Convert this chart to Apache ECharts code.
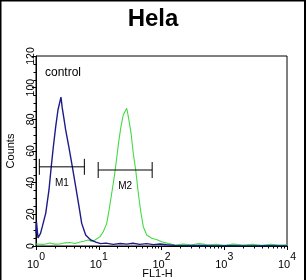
<!DOCTYPE html>
<html><head><meta charset="utf-8">
<script src="https://cdn.jsdelivr.net/npm/echarts@6/dist/echarts.min.js"></script>
<style>html,body{margin:0;padding:0;background:#fff}#c{width:306px;height:280px}</style>
</head><body><div id="c"></div>
<script>
const chartTitle = 'Hela';
const xName = 'FL1-H';
const yName = 'Counts';
const sampleLabel = 'control';
const xDecades = [0, 1, 2, 3, 4];
const yMax = 120;
const yStep = 20;

// control (blue) histogram: FL1-H value, counts
const blueX = [1.0, 1.018, 1.076, 1.18, 1.26, 1.43, 1.61, 1.75, 1.89, 2.06, 2.24, 2.40, 2.50, 2.62, 2.80, 2.97, 3.36, 3.79, 4.29, 4.85, 5.35, 6.19, 7.44, 9.0, 10.7, 13, 17, 22, 28, 35, 45, 58, 75, 95, 120, 164, 250, 400, 700, 1200, 2500, 5000, 10000];
const blueY = [8, 15.2, 5.1, 8, 12.2, 20.8, 35.4, 50.1, 62.7, 75.4, 85.9, 91, 94, 87.2, 80, 73.3, 61.9, 50.1, 37.5, 24.8, 14.3, 6.9, 3.8, 2.5, 1.5, 1.8, 1.0, 1.6, 1.2, 1.7, 1.0, 1.5, 0.9, 1.3, 0.8, 0.4, 0.2, 0.3, 0.1, 0.2, 0.1, 0.2, 0.1];

// sample (green) histogram
const greenX = [1.0, 1.3, 1.67, 2.0, 2.41, 2.9, 3.48, 4.2, 5.03, 5.8, 6.74, 7.6, 8.71, 10.5, 11.8, 13.4, 14.6, 16.1, 17.7, 19.3, 21.0, 22.6, 24.6, 26.3, 27.9, 29.6, 32.7, 35.5, 38.8, 42.7, 47.1, 51.3, 58.1, 69.8, 85, 101, 130, 164, 220, 300, 400, 550, 750, 1000, 1400, 2000, 2800, 4000, 5500, 7500, 10000];
const greenY = [1.3, 1.0, 1.9, 1.2, 1.3, 2.0, 2.2, 1.6, 2.5, 3.0, 3.8, 3.0, 3.8, 5.9, 9.0, 14.3, 22.7, 33.3, 43.8, 55.4, 67.0, 75.4, 82.8, 84, 87.0, 81.7, 71.4, 58.6, 48.0, 33.3, 20.7, 12.2, 6.9, 4.9, 4.0, 2.7, 1.5, 0.6, 1.2, 0.8, 1.5, 0.7, 1.1, 0.5, 1.2, 0.6, 1.0, 0.5, 1.1, 0.6, 0.8];

// gate markers
const markerNames = ['M1', 'M2'];
const markerLo = [1.13, 9.8];
const markerHi = [5.9, 71];
const markerY = [50, 48];

const minorTicks = [];
for (let d = 0; d < 4; d++) for (let k = 2; k <= 9; k++) minorTicks.push(d + Math.log10(k));

const chart = echarts.init(document.getElementById('c'), null, {renderer: 'canvas'});
const font = 'Liberation Sans, Arial, sans-serif';
const narrow = 'Liberation Sans Narrow, Liberation Sans, Arial, sans-serif';

chart.setOption({
  animation: false,
  backgroundColor: '#fff',
  title: {text: chartTitle, left: 'center', top: 2, textStyle: {fontFamily: font, fontWeight: 'bold', fontSize: 24, color: '#000'}},
  grid: {left: 36, right: 19, top: 56, bottom: 34, outerBoundsMode: 'none', containLabel: false,
         show: true, borderColor: '#000', borderWidth: 1},
  xAxis: [
    {type: 'log', logBase: 10, min: 1, max: 10000, show: false},
    {type: 'value', min: 0, max: 4, interval: 1, position: 'bottom',
     name: xName, nameLocation: 'middle', nameGap: 22, nameMoveOverlap: false,
     nameTextStyle: {fontFamily: narrow, fontSize: 11, color: '#000', padding: [0, 8, 0, 0]},
     axisLine: {show: true, lineStyle: {color: '#000', width: 1}},
     axisTick: {show: true, inside: false, length: 4, lineStyle: {color: '#000'}},
     splitLine: {show: false},
     axisLabel: {margin: 5, color: '#000', fontFamily: narrow, fontSize: 11,
       formatter: v => '{b|10}{s|' + v + '}',
       rich: {b: {fontFamily: narrow, fontSize: 11, color: '#000', padding: [8, 0, 0, 0]},
              s: {fontFamily: narrow, fontSize: 10.5, color: '#000', padding: [0, 0, 6, 0]}}}},
    {type: 'value', min: 0, max: 4, position: 'bottom',
     axisLine: {show: false}, axisLabel: {show: false}, splitLine: {show: false},
     axisTick: {show: true, length: 2.5, customValues: minorTicks, lineStyle: {color: '#000'}}}
  ],
  yAxis: [
    {type: 'value', min: 0, max: yMax, interval: yStep,
     name: yName, nameLocation: 'middle', nameGap: 20, nameRotate: 90, nameMoveOverlap: false,
     nameTextStyle: {fontFamily: narrow, fontSize: 11, color: '#000'},
     axisLine: {show: true, lineStyle: {color: '#000'}},
     axisTick: {show: true, length: 4, lineStyle: {color: '#000'}},
     minorTick: {show: true, splitNumber: 4, length: 2.5, lineStyle: {color: '#000'}},
     splitLine: {show: false},
     axisLabel: {rotate: 90, margin: -1, color: '#000', fontFamily: narrow, fontSize: 10.5}}
  ],
  graphic: [
    {type: 'text', left: 45, top: 67, style: {text: sampleLabel, font: '12px ' + font, fill: '#000'}},
    {type: 'rect', shape: {x: 0, y: 0, width: 306, height: 1.5}, style: {fill: '#000'}},
    {type: 'rect', shape: {x: 0, y: 0, width: 1.5, height: 280}, style: {fill: '#000'}},
    {type: 'rect', shape: {x: 304, y: 0, width: 2, height: 280}, style: {fill: '#000'}}
  ],
  series: [
    {type: 'line', xAxisIndex: 0, yAxisIndex: 0, data: greenX.map((x, i) => [x, greenY[i]]),
     showSymbol: false, lineStyle: {color: '#44da44', width: 1.1}, z: 2},
    {type: 'line', xAxisIndex: 0, yAxisIndex: 0, data: blueX.map((x, i) => [x, blueY[i]]),
     showSymbol: false, lineStyle: {color: '#1c1c88', width: 1.4}, z: 3},
    {type: 'custom', xAxisIndex: 0, yAxisIndex: 0, z: 5,
     data: markerNames.map((n, i) => [markerLo[i], markerHi[i], markerY[i], n]),
     encode: {x: [0, 1], y: 2},
     renderItem: (params, api) => {
       const a = api.coord([api.value(0), api.value(2)]);
       const b = api.coord([api.value(1), api.value(2)]);
       const h = 8;
       const st = {stroke: '#000', lineWidth: 1};
       return {type: 'group', children: [
         {type: 'line', shape: {x1: a[0], y1: a[1], x2: b[0], y2: b[1]}, style: st},
         {type: 'line', shape: {x1: a[0], y1: a[1] - h, x2: a[0], y2: a[1] + h}, style: st},
         {type: 'line', shape: {x1: b[0], y1: b[1] - h, x2: b[0], y2: b[1] + h}, style: st},
         {type: 'text', style: {text: markerNames[params.dataIndex], x: (a[0] + b[0]) / 2, y: a[1] + 16,
           align: 'center', verticalAlign: 'middle', font: '10px ' + font, fill: '#000'}}
       ]};
     }}
  ]
});
</script></body></html>
